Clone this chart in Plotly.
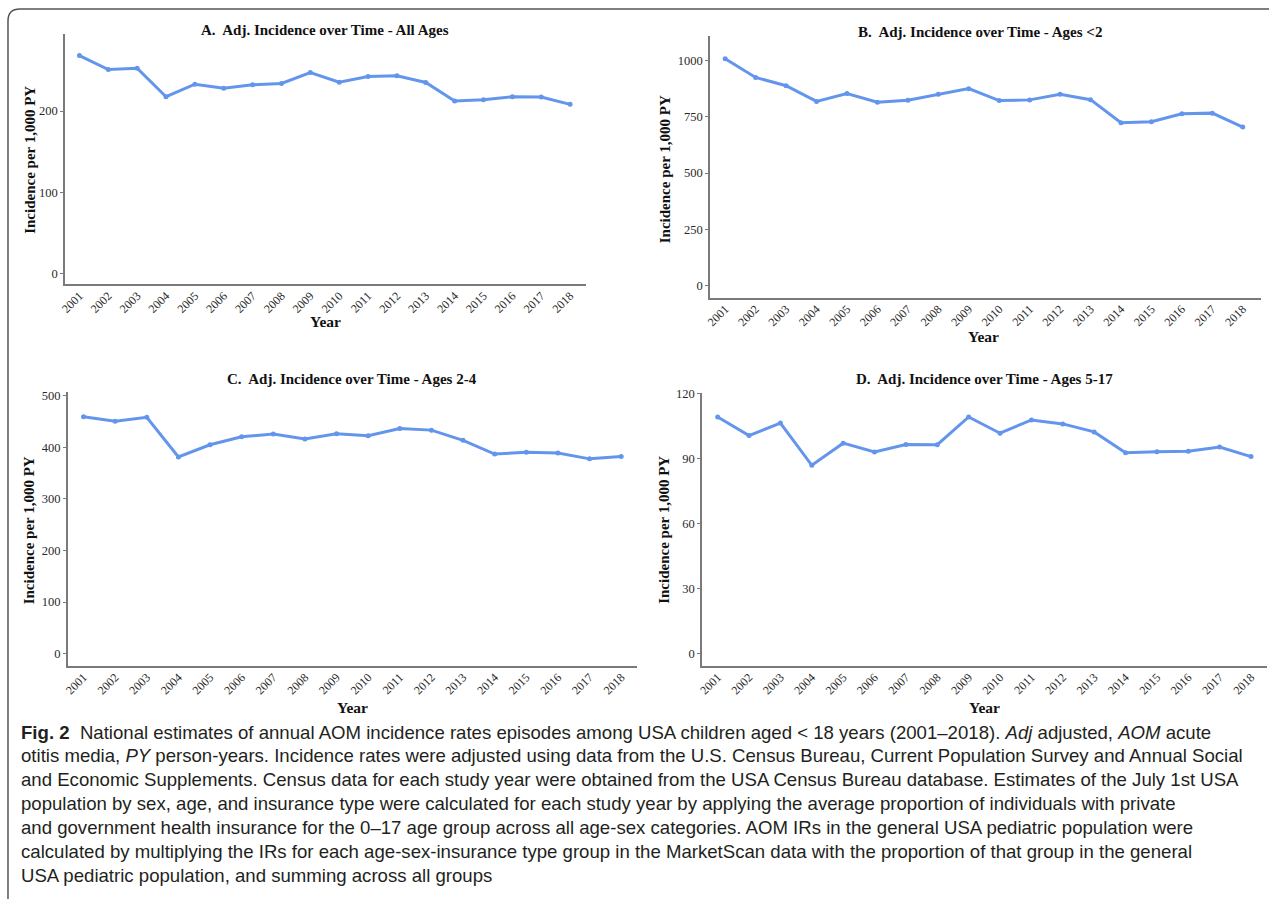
import plotly.graph_objects as go

# --- data -----------------------------------------------------------------
years = list(range(2001, 2019))
year_labels = [str(y) for y in years]

all_ages = [268.2, 251.0, 252.6, 217.6, 233.0, 228.0, 232.2, 233.9, 247.3,
            235.5, 242.4, 243.3, 235.1, 212.2, 213.9, 217.6, 217.1, 208.2]
ages_lt2 = [1009, 926, 889, 819, 854, 816, 824, 851, 876,
            823, 826, 851, 827, 724, 729, 764, 767, 705]
ages_2_4 = [459.4, 450.6, 458.3, 381.4, 405.0, 420.5, 425.6, 416.0, 426.3,
            422.4, 436.5, 433.3, 413.5, 387.0, 390.4, 389.0, 377.6, 382.0]
ages_5_17 = [109.3, 100.7, 106.5, 87.0, 97.2, 93.1, 96.6, 96.5, 109.3,
             101.8, 107.9, 106.1, 102.4, 92.8, 93.2, 93.5, 95.4, 91.0]

panel_titles = [
    "A.  Adj. Incidence over Time - All Ages",
    "B.  Adj. Incidence over Time - Ages <2",
    "C.  Adj. Incidence over Time - Ages 2-4",
    "D.  Adj. Incidence over Time - Ages 5-17",
]
y_ticks = [[0, 100, 200], [0, 250, 500, 750, 1000],
           [0, 100, 200, 300, 400, 500], [0, 30, 60, 90, 120]]
y_title = "Incidence per 1,000 PY"
x_title = "Year"

caption_lines = [
    "<b>Fig. 2</b>  National estimates of annual AOM incidence rates episodes among USA children aged < 18 years (2001–2018). <i>Adj</i> adjusted, <i>AOM</i> acute",
    "otitis media, <i>PY</i> person-years. Incidence rates were adjusted using data from the U.S. Census Bureau, Current Population Survey and Annual Social",
    "and Economic Supplements. Census data for each study year were obtained from the USA Census Bureau database. Estimates of the July 1st USA",
    "population by sex, age, and insurance type were calculated for each study year by applying the average proportion of individuals with private",
    "and government health insurance for the 0–17 age group across all age-sex categories. AOM IRs in the general USA pediatric population were",
    "calculated by multiplying the IRs for each age-sex-insurance type group in the MarketScan data with the proportion of that group in the general",
    "USA pediatric population, and summing across all groups",
]

# --- page geometry ----------------------------------------------------------
# The page body keeps the browser's default 8px margin, so the figure is
# sized to fit inside the window and page-pixel positions are offset by it.
PAGE_W, PAGE_H, BODY = 1285, 915, 8
W, H = PAGE_W - 2 * BODY, PAGE_H - 2 * BODY
SERIF = "Liberation Serif, Times New Roman, serif"
SANS = "Liberation Sans, Arial, sans-serif"
LINE_COLOR = "#6495ED"
AXIS_COLOR = "#7a7a7a"


def px(x):
    return (x - BODY) / W


def py(y):
    return 1 - (y - BODY) / H


# plot-area boxes: (left, right, top, bottom) in page pixels, plus axis ranges
panels = [
    dict(box=(67.3, 590.7, 36.0, 288.3), yr=[-13.4, 295.0], xr=[2000.5, 2018.55],
         data=all_ages, title=(329, 32.5), ytitle=(32, 163), xtitle=(329, 326)),
    dict(box=(715.3, 1269.0, 38.3, 301.7), yr=[-55, 1110], xr=[2000.5, 2018.6],
         data=ages_lt2, title=(986.5, 34), ytitle=(670.5, 172), xtitle=(990, 341)),
    dict(box=(70.0, 642.0, 396.7, 672.3), yr=[-23.7, 507.0], xr=[2000.5, 2018.5],
         data=ages_2_4, title=(356, 383.5), ytitle=(32, 536), xtitle=(356, 714)),
    dict(box=(707.3, 1274.7, 397.3, 672.3), yr=[-5.6, 120.5], xr=[2000.5, 2018.5],
         data=ages_5_17, title=(991, 384), ytitle=(669.5, 535), xtitle=(991.5, 714.5)),
]

fig = go.Figure()
annotations = []
layout_axes = {}

for i, p in enumerate(panels):
    n = "" if i == 0 else str(i + 1)
    xa, ya = "x" + n, "y" + n
    l, r, t, b = p["box"]
    fig.add_trace(go.Scatter(
        x=years, y=p["data"], xaxis=xa, yaxis=ya, mode="lines+markers",
        line=dict(color=LINE_COLOR, width=3),
        marker=dict(color=LINE_COLOR, size=5),
        showlegend=False, hoverinfo="x+y",
    ))
    layout_axes["xaxis" + n] = dict(
        domain=[px(l), px(r)], anchor=ya, range=p["xr"],
        tickvals=years, ticktext=year_labels, tickangle=-45,
        ticks="", ticklabelstandoff=-2, showgrid=False, zeroline=False,
        showline=True, linecolor=AXIS_COLOR, linewidth=1.5,
        tickfont=dict(family=SERIF, size=12, color="#2a2a2a"),
        fixedrange=True,
    )
    layout_axes["yaxis" + n] = dict(
        domain=[py(b), py(t)], anchor=xa, range=p["yr"],
        tickvals=y_ticks[i], ticks="outside", ticklen=3, tickwidth=1,
        tickcolor=AXIS_COLOR, showgrid=False, zeroline=False,
        showline=True, linecolor=AXIS_COLOR, linewidth=1.5,
        tickfont=dict(family=SERIF, size=12.5, color="#2a2a2a"),
        fixedrange=True,
    )
    tx, ty = p["title"]
    annotations.append(dict(
        text="<b>%s</b>" % panel_titles[i], x=px(tx), y=py(ty),
        xref="paper", yref="paper", xanchor="center", yanchor="middle",
        showarrow=False, font=dict(family=SERIF, size=15, color="#111111"),
    ))
    yx, yy = p["ytitle"]
    annotations.append(dict(
        text="<b>%s</b>" % y_title, x=px(yx), y=py(yy), textangle=-90,
        xref="paper", yref="paper", xanchor="center", yanchor="middle",
        showarrow=False, font=dict(family=SERIF, size=15, color="#111111"),
    ))
    xx, xy = p["xtitle"]
    annotations.append(dict(
        text="<b>%s</b>" % x_title, x=px(xx), y=py(xy),
        xref="paper", yref="paper", xanchor="center", yanchor="middle",
        showarrow=False, font=dict(family=SERIF, size=15.5, color="#111111"),
    ))

# caption block below the panels
for k, line in enumerate(caption_lines):
    annotations.append(dict(
        text=line, x=px(21), y=py(739 + 24 * k),
        xref="paper", yref="paper", xanchor="left", yanchor="middle",
        showarrow=False, font=dict(family=SANS, size=18.6, color="#231f20"),
    ))

# frame with a rounded top-left corner, running off the right and bottom
x0, y0, rad = 10, 11, 12
frame = "M %f %f L %f %f Q %f %f %f %f L %f %f" % (
    px(x0), py(PAGE_H), px(x0), py(y0 + rad),
    px(x0), py(y0), px(x0 + rad), py(y0),
    px(PAGE_W), py(y0),
)

fig.update_layout(
    width=W, height=H,
    margin=dict(l=0, r=0, t=0, b=0),
    paper_bgcolor="white", plot_bgcolor="white",
    annotations=annotations,
    shapes=[dict(type="path", path=frame, xref="paper", yref="paper",
                 line=dict(color="#555555", width=1.5))],
    **layout_axes,
)

fig.write_html("out.html")
